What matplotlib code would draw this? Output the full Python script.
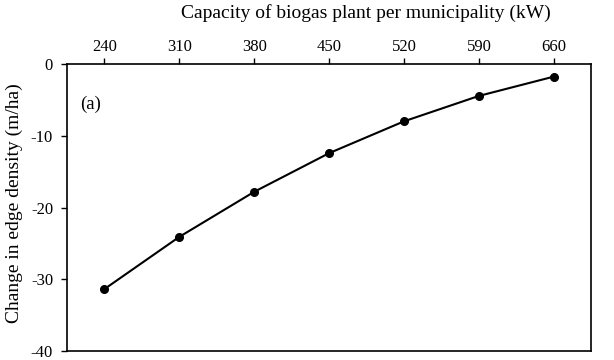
import matplotlib
matplotlib.use('Agg')
import matplotlib.pyplot as plt

# Capacity categories (kW) and change in edge density (m/ha)
capacity = ['240', '310', '380', '450', '520', '590', '660']
edge_density_change = [-31.4, -24.1, -17.8, -12.4, -7.95, -4.4, -1.7]

plt.rcParams['font.family'] = ['Liberation Serif', 'DejaVu Serif']
plt.rcParams['axes.unicode_minus'] = False  # plain hyphen like the original

fig = plt.figure(figsize=(6.14, 3.6), dpi=100)
ax = fig.add_axes([0.109, 0.026, 0.854, 0.795])

x = list(range(len(capacity)))
ax.plot(x, edge_density_change, color='black', linewidth=1.5,
        marker='o', markersize=5.5)

ax.set_xlim(-0.5, len(capacity) - 0.5)
ax.set_ylim(-40, 0)
ax.set_yticks([0, -10, -20, -30, -40])

# category axis on top
ax.xaxis.tick_top()
ax.xaxis.set_label_position('top')
ax.set_xticks(x)
ax.set_xticklabels(capacity)
ax.set_xlabel('Capacity of biogas plant per municipality (kW)', fontsize=14)
ax.set_ylabel('Change in edge density (m/ha)', fontsize=14)
ax.xaxis.set_label_coords(0.571, 1.163)
ax.yaxis.set_label_coords(-0.084, 0.516)

ax.tick_params(axis='both', labelsize=12, direction='out', length=4, width=1)
ax.tick_params(axis='y', pad=6)
ax.tick_params(axis='x', pad=2.5)
for s in ax.spines.values():
    s.set_linewidth(1.2)

ax.text(0.025, 0.845, '(a)', transform=ax.transAxes, fontsize=13.5)

plt.savefig('out.png', dpi=100)
plt.close()
